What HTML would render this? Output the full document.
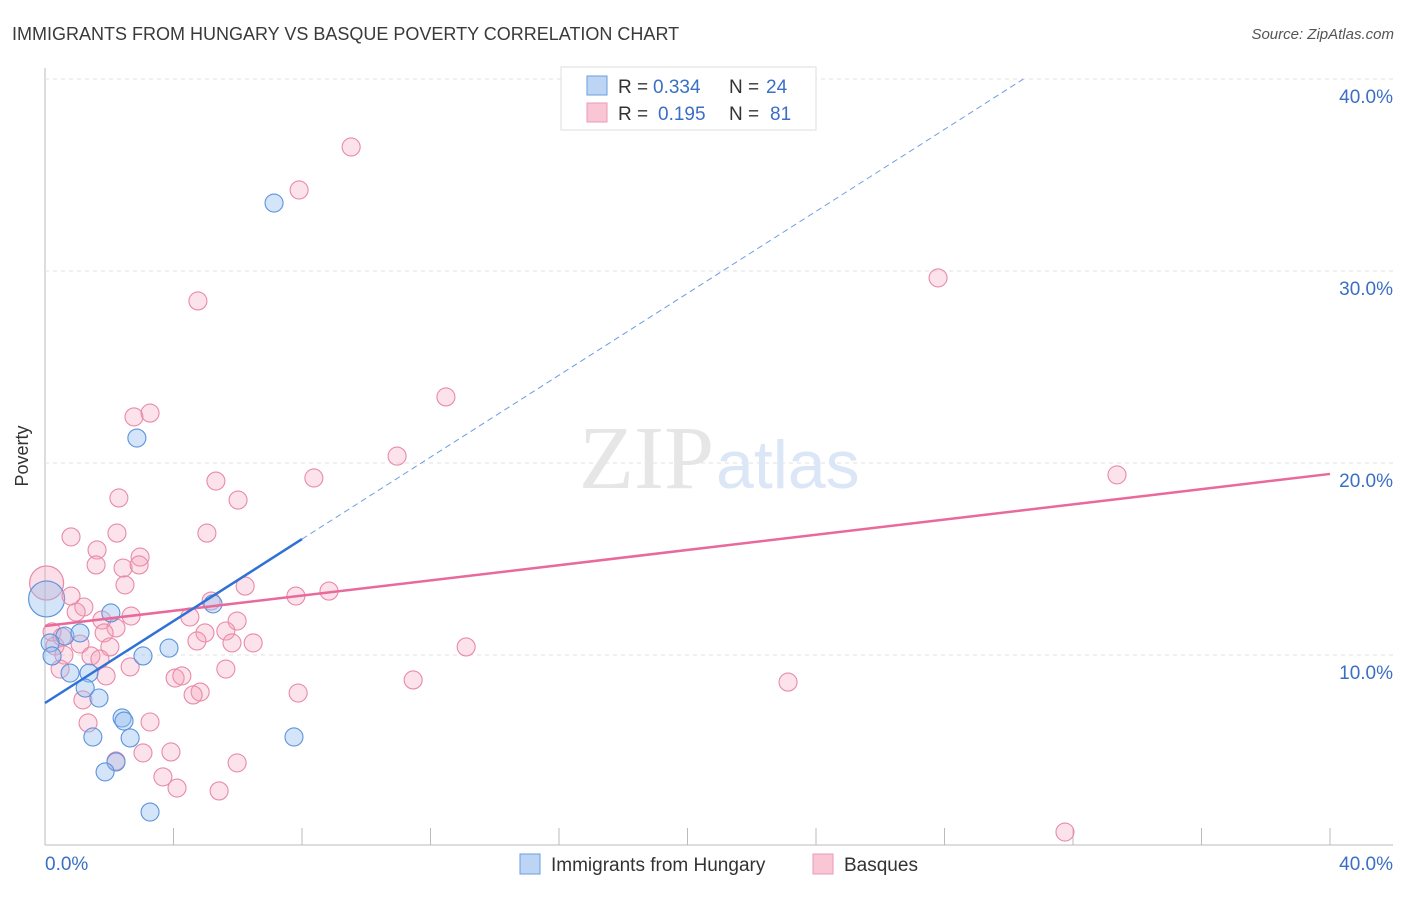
<!DOCTYPE html>
<html><head><meta charset="utf-8"><style>
body{margin:0;background:#fff;font-family:"Liberation Sans",sans-serif}
svg text{font-family:"Liberation Sans",sans-serif}
</style></head><body>
<svg width="1406" height="892" viewBox="0 0 1406 892">
<text x="12" y="40" font-size="18" fill="#3a3a3a">IMMIGRANTS FROM HUNGARY VS BASQUE POVERTY CORRELATION CHART</text>
<text x="1394" y="39" font-size="15" fill="#555" font-style="italic" text-anchor="end">Source: ZipAtlas.com</text>
<g id="grid"></g>
<text x="714" y="488" font-size="90" fill="#e6e6e6" text-anchor="end" style="font-family:'Liberation Serif',serif">ZIP</text>
<text x="716" y="488" font-size="68" fill="#dbe6f6">atlas</text>
<text x="28" y="456" font-size="18" fill="#333" transform="rotate(-90 28 456)" text-anchor="middle">Poverty</text>
<g id="pts"></g>
<g id="lines"></g>
<g>
<rect x="561" y="67" width="255" height="63" fill="#fff" stroke="#ddd"/>
<rect x="587" y="76" width="20" height="19" fill="#bcd5f5" stroke="#6b9ee0"/>
<rect x="587" y="103" width="20" height="19" fill="#f9c6d5" stroke="#ec9ab3"/>
<text x="618" y="93" font-size="19" fill="#333">R =</text>
<text x="653" y="93" font-size="19" fill="#3a6fc4">0.334</text>
<text x="729" y="93" font-size="19" fill="#333">N =</text>
<text x="766" y="93" font-size="19" fill="#3a6fc4">24</text>
<text x="618" y="120" font-size="19" fill="#333">R =</text>
<text x="658" y="120" font-size="19" fill="#3a6fc4">0.195</text>
<text x="729" y="120" font-size="19" fill="#333">N =</text>
<text x="770" y="120" font-size="19" fill="#3a6fc4">81</text>
</g>
<g>
<rect x="520" y="854" width="20" height="20" fill="#bcd5f5" stroke="#6b9ee0"/>
<text x="551" y="871" font-size="19" fill="#333">Immigrants from Hungary</text>
<rect x="813" y="854" width="20" height="20" fill="#f9c6d5" stroke="#ec9ab3"/>
<text x="844" y="871" font-size="19" fill="#333">Basques</text>
</g>
<text x="45" y="870" font-size="19" fill="#3a6fc4">0.0%</text>
<text x="1393" y="870" font-size="19" fill="#3a6fc4" text-anchor="end">40.0%</text>
</svg>
<script>
const yTicks=[10,20,30,40];
const pinkX=[9.53,7.91,4.76,27.80,12.48,2.77,3.27,10.96,33.37,5.32,8.37,2.30,6.01,5.04,0.81,2.24,1.62,2.96,1.59,2.43,2.93,6.23,2.49,8.84,7.81,5.17,0.81,1.21,0.97,1.77,2.68,4.51,5.98,2.21,1.84,0.22,0.53,4.98,5.63,1.09,4.73,2.02,5.82,6.48,0.31,0.59,1.43,1.71,2.65,5.63,0.47,13.11,11.46,23.13,4.05,4.26,1.90,4.83,7.88,4.61,1.18,1.34,3.27,2.21,3.05,3.92,5.98,3.67,4.11,5.42,31.75];
const pinkY=[36.46,34.22,28.44,29.64,23.44,22.40,22.60,20.36,19.38,19.06,19.22,18.18,18.07,16.35,16.15,16.35,15.47,15.10,14.69,14.53,14.69,13.59,13.65,13.33,13.07,12.81,13.07,12.50,12.24,11.82,12.03,11.98,11.77,11.41,11.15,11.20,10.94,11.15,11.25,10.57,10.73,10.42,10.63,10.63,10.47,10.00,9.95,9.79,9.38,9.27,9.27,10.42,8.70,8.59,8.80,8.91,8.91,8.07,8.02,7.92,7.66,6.46,6.51,4.48,4.90,4.95,4.38,3.65,3.07,2.92,0.78];
const blueX=[7.13,2.86,2.05,5.23,0.62,1.09,0.16,0.22,3.86,3.05,0.78,1.37,1.25,1.68,2.40,2.46,1.49,2.65,7.75,2.21,1.87,3.27];
const blueY=[33.54,21.30,12.19,12.66,10.99,11.15,10.63,9.95,10.36,9.95,9.06,9.06,8.28,7.76,6.72,6.56,5.73,5.68,5.73,4.43,3.91,1.82];
const bigPink=[0.05,13.75], bigBlue=[0.05,12.92];
const pinkTrend=[11.51,19.43];
const blueTrend=[7.5,1.067];
const NS='http://www.w3.org/2000/svg';
const X=v=>45+v/40*1285, Y=v=>847-v*19.2;
function mk(tag,a,p){const e=document.createElementNS(NS,tag);for(const k in a)e.setAttribute(k,a[k]);p.appendChild(e);return e;}
const grid=document.getElementById('grid');
let ax=mk('line',{x1:45,y1:68,x2:45,y2:845,stroke:'#bbb'},grid);


let bx=mk('line',{x1:45,y1:845,x2:1393,y2:845,stroke:'#bbb'},grid);


for(let i=1;i<=10;i++){const t=mk('line',{x1:45+i*128.5,y1:828,x2:45+i*128.5,y2:845,stroke:'#bbb'},grid);

}
yTicks.forEach(v=>{const l=mk('line',{x1:45,y1:Y(v),x2:1393,y2:Y(v),stroke:'#e2e2e2','stroke-width':1,'stroke-dasharray':'4,4'},grid);


const t=mk('text',{x:1393,y:Y(v)+24,'font-size':19,fill:'#3a6fc4','text-anchor':'end'},grid);t.textContent=v.toFixed(1)+'%';

});
const pts=document.getElementById('pts');
let bp=mk('circle',{cx:X(bigPink[0]),cy:Y(bigPink[1]),r:17,fill:'rgba(244,160,185,0.35)',stroke:'#e98aa8','stroke-width':1.2},pts);


let bb=mk('circle',{cx:X(bigBlue[0]),cy:Y(bigBlue[1]),r:18,fill:'rgba(150,190,240,0.4)',stroke:'#5b93dd','stroke-width':1.2},pts);


pinkX.forEach((x,i)=>{const c=mk('circle',{cx:X(x),cy:Y(pinkY[i]),r:9,fill:'rgba(244,160,185,0.3)',stroke:'#e98aa8','stroke-width':1.1},pts);

});
blueX.forEach((x,i)=>{const c=mk('circle',{cx:X(x),cy:Y(blueY[i]),r:9,fill:'rgba(150,190,240,0.4)',stroke:'#5b93dd','stroke-width':1.1},pts);

});
const lines=document.getElementById('lines');
let pl=mk('line',{x1:X(0),y1:Y(pinkTrend[0]),x2:X(40),y2:Y(pinkTrend[1]),stroke:'#e8699a','stroke-width':2.5},lines);


let bl=mk('line',{x1:X(0),y1:Y(blueTrend[0]),x2:X(8),y2:Y(blueTrend[0]+8*blueTrend[1]),stroke:'#2f72d6','stroke-width':2.5},lines);


const xe=(40-blueTrend[0])/blueTrend[1];
let bd=mk('line',{x1:X(8),y1:Y(blueTrend[0]+8*blueTrend[1]),x2:X(xe),y2:Y(40),stroke:'#6b9ee0','stroke-width':1,'stroke-dasharray':'6,4'},lines);


</script>
</body></html>
